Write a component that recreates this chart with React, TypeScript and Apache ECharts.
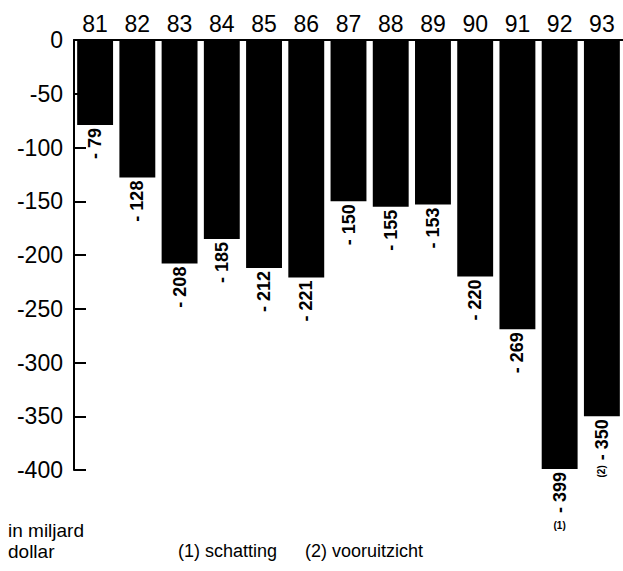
import React, { useEffect, useRef } from "react";
import * as echarts from "echarts";

const years = ["81", "82", "83", "84", "85", "86", "87", "88", "89", "90", "91", "92", "93"];
const deficits = [-79, -128, -208, -185, -212, -221, -150, -155, -153, -220, -269, -399, -350];
const notePrefix = ["", "", "", "", "", "", "", "", "", "", "", "", "(2)"];
const noteBelow = { year: "92", value: -399, text: "(1)" };
const yMin = -400;
const yMax = 0;
const yStep = 50;
const unitLines = ["in miljard", "dollar"];
const footnotes = ["(1) schatting", "(2) vooruitzicht"];

export default function App() {
  const ref = useRef<HTMLDivElement>(null);
  useEffect(() => {
    if (!ref.current) return;
    const chart = echarts.init(ref.current, null, { renderer: "svg" });
    const font = "'Liberation Sans', Arial, sans-serif";
    chart.setOption({
      animation: false,
      backgroundColor: "#fff",
      grid: { left: 74, right: -10, top: 40, bottom: 101, containLabel: false },
      xAxis: {
        type: "category",
        data: years,
        position: "top",
        axisLine: { show: true, lineStyle: { color: "#000", width: 2 } },
        axisTick: { show: false },
        axisLabel: { color: "#000", fontSize: 23, fontFamily: font, margin: 5, interval: 0 },
        splitLine: { show: false },
      },
      yAxis: {
        type: "value",
        min: yMin,
        max: yMax,
        interval: yStep,
        axisLine: { show: true, lineStyle: { color: "#000", width: 2 } },
        axisTick: { show: true, inside: true, length: 12, lineStyle: { color: "#000", width: 2 } },
        axisLabel: { color: "#000", fontSize: 23, fontFamily: font, margin: 11 },
        splitLine: { show: false },
      },
      series: [
        {
          type: "bar",
          data: deficits,
          barCategoryGap: "15%",
          itemStyle: { color: "#000" },
          label: {
            show: true,
            position: "bottom",
            distance: 3,
            rotate: 90,
            align: "right",
            verticalAlign: "middle",
            color: "#000",
            fontSize: 18,
            fontWeight: "bold",
            fontFamily: font,
            formatter: (p: any) => {
              const pre = notePrefix[p.dataIndex];
              const txt = "- " + Math.abs(p.value);
              return pre ? "{s|" + pre + "} " + txt : txt;
            },
            rich: { s: { fontSize: 10, fontWeight: "bold", fontFamily: font, color: "#000" } },
          },
          markPoint: {
            symbol: "circle",
            symbolSize: 0,
            data: [{ coord: [noteBelow.year, noteBelow.value], value: noteBelow.text }],
            label: {
              show: true,
              position: "inside",
              offset: [0, 57],
              formatter: () => noteBelow.text,
              color: "#000",
              fontSize: 10,
              fontWeight: "bold",
              fontFamily: font,
            },
          },
        },
      ],
      graphic: [
        { type: "text", left: 8, top: 521, style: { text: unitLines[0], fontSize: 19, fontFamily: font, fill: "#000" } },
        { type: "text", left: 8, top: 542, style: { text: unitLines[1], fontSize: 19, fontFamily: font, fill: "#000" } },
        { type: "text", left: 178, top: 542, style: { text: footnotes[0], fontSize: 18, fontFamily: font, fill: "#000" } },
        { type: "text", left: 305, top: 542, style: { text: footnotes[1], fontSize: 18, fontFamily: font, fill: "#000" } },
      ],
    });
    return () => chart.dispose();
  }, []);
  return <div ref={ref} style={{ position: "absolute", left: 0, top: 0, width: 623, height: 571 }} />;
}
